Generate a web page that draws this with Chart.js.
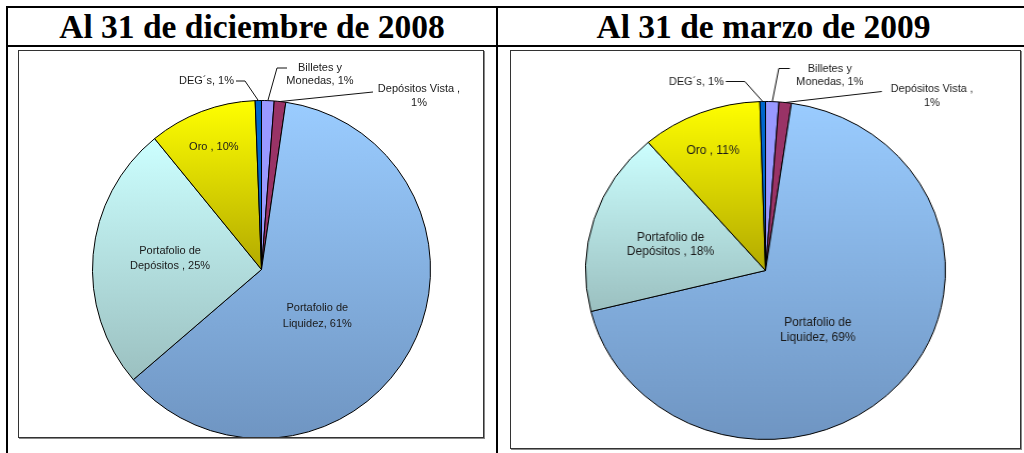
<!DOCTYPE html>
<html>
<head>
<meta charset="utf-8">
<script src="https://cdn.jsdelivr.net/npm/chart.js@4.4.0/dist/chart.umd.min.js"></script>
<style>
  body { margin: 0; background: #fff; width: 1024px; height: 453px; overflow: hidden; position: relative; }
  .ln { position: absolute; background: #000; }
  .head { position: absolute; top: 8px; height: 37px; line-height: 37px; text-align: center;
          font: bold 33.5px "Liberation Serif", "Times New Roman", serif; color: #000; white-space: nowrap; }
  .frame { position: absolute; box-sizing: border-box; border: 1px solid #333; overflow: hidden;
           box-shadow: 1px 1px 0 #888; background: #fff; }
  .frame canvas { position: absolute; left: 0; top: 0; }
</style>
</head>
<body>
<div class="ln" style="left:6px;top:6px;width:1030px;height:2px"></div>
<div class="ln" style="left:6px;top:45px;width:1030px;height:2px"></div>
<div class="ln" style="left:6px;top:6px;width:2px;height:460px"></div>
<div class="ln" style="left:496px;top:6px;width:2px;height:460px"></div>
<div class="head" id="h1" style="left:8px;width:488px"></div>
<div class="head" id="h2" style="left:498px;width:531px"></div>

<div class="frame" style="left:18px;top:50px;width:466px;height:388px">
  <canvas id="js--pie1" width="464" height="390"></canvas>
</div>
<div class="frame" style="left:510px;top:50px;width:511px;height:399px">
  <canvas id="js--pie2" width="508" height="396" style="transform:scaleX(1.065);transform-origin:254.5px 0"></canvas>
</div>

<script>
// datos (en %)
const titles = ['Al 31 de diciembre de 2008', 'Al 31 de marzo de 2009'];
const categories = ['Billetes y Monedas', 'Depósitos Vista ', 'Portafolio de Liquidez', 'Portafolio de Depósitos ', 'Oro ', 'DEG´s'];
const dic2008 = [1.2, 1.1, 61.4, 25.4, 10.3, 0.6];
const mar2009 = [1.2, 1.1, 68.8, 17.6, 10.8, 0.5];

document.getElementById('h1').textContent = titles[0];
document.getElementById('h2').textContent = titles[1];

// color arriba / color abajo de cada porcion
const fills = [
  ['#9999FF', '#9999FF'],
  ['#993366', '#993366'],
  ['#9ACCFF', '#6F95C2'],
  ['#CCFFFF', '#9BC0C0'],
  ['#FFFF00', '#B3AA00'],
  ['#0066CC', '#0066CC']
];

function shade(c) {
  const chart = c.chart;
  const a = chart.chartArea;
  const f = fills[c.dataIndex];
  if (!a || f[0] == f[1]) return f[0];
  const data = c.dataset.data;
  const total = data.reduce((s, v) => s + v, 0);
  let before = 0;
  for (let i = 0; i < c.dataIndex; i++) before += data[i];
  const a0 = before / total * 2 * Math.PI;
  const a1 = (before + data[c.dataIndex]) / total * 2 * Math.PI;
  const cy = (a.top + a.bottom) / 2;
  const r = Math.min(a.width, a.height) / 2;
  const ys = [cy, cy - r * Math.cos(a0), cy - r * Math.cos(a1)];
  if (a0 <= 0 || a1 >= 2 * Math.PI) ys.push(cy - r);
  if (a0 <= Math.PI && a1 >= Math.PI) ys.push(cy + r);
  const g = chart.ctx.createLinearGradient(0, Math.min(...ys), 0, Math.max(...ys));
  g.addColorStop(0, f[0]);
  g.addColorStop(1, f[1]);
  return g;
}

function sliceLabels(cfg) {
  return {
    id: 'sliceLabels',
    afterDatasetsDraw(chart) {
      const ctx = chart.ctx;
      const data = chart.data.datasets[0].data;
      const total = data.reduce((s, v) => s + v, 0);
      ctx.save();
      ctx.fillStyle = '#1a1a1a';
      ctx.strokeStyle = '#111';
      ctx.lineWidth = 1;
      ctx.textBaseline = 'middle';
      chart.getDatasetMeta(0).data.forEach((arc, i) => {
        const p = arc.getProps(['x', 'y', 'startAngle', 'endAngle', 'outerRadius'], true);
        const mid = (p.startAngle + p.endAngle) / 2;
        const text = chart.data.labels[i] + ', ' + Math.round(data[i] / total * 100 + 1e-9) + '%';
        const lay = cfg.labels[i];
        const lh = lay.lh || 13;
        const words = text.split(' ');
        const lines = lay.wrap ? [words.slice(0, lay.wrap).join(' '), words.slice(lay.wrap).join(' ')] : [text];
        let x, y;
        if (lay.inside) {
          const an = mid + lay.shift * Math.PI / 180;
          x = p.x + Math.cos(an) * lay.f * p.outerRadius;
          y = p.y + Math.sin(an) * lay.f * p.outerRadius - (lines.length - 1) * lh / 2;
        } else {
          x = p.x + lay.dx / cfg.sx;
          y = p.y + lay.dy;
          ctx.beginPath();
          lay.leader.forEach((q, k) => {
            const lx = p.x + q[0] / cfg.sx, ly = p.y + q[1];
            if (k) ctx.lineTo(lx, ly); else ctx.moveTo(lx, ly);
          });
          ctx.lineTo(p.x + Math.cos(mid) * p.outerRadius, p.y + Math.sin(mid) * p.outerRadius);
          ctx.stroke();
        }
        ctx.font = (lay.inside ? cfg.innerSize : 11) + 'px "Liberation Sans", Arial, sans-serif';
        ctx.textAlign = lay.align || 'center';
        lines.forEach((ln, k) => {
          ctx.save();
          ctx.translate(x, y + k * lh);
          ctx.scale(1 / cfg.sx, 1);
          ctx.fillText(ln, 0, 0);
          ctx.restore();
        });
      });
      ctx.restore();
    }
  };
}

function makePie(id, values, padding, cfg) {
  new Chart(document.getElementById(id), {
    type: 'pie',
    data: {
      labels: categories,
      datasets: [{
        data: values,
        backgroundColor: shade,
        borderColor: '#000',
        borderWidth: 1
      }]
    },
    options: {
      responsive: false,
      animation: false,
      devicePixelRatio: 1,
      layout: { padding: padding },
      plugins: { legend: { display: false }, tooltip: { enabled: false } },
      events: []
    },
    plugins: [sliceLabels(cfg)]
  });
}

makePie('js--pie1', dic2008, { left: 73, right: 52, top: 49, bottom: 2 }, {
  sx: 1, innerSize: 11,
  labels: [
    { dx: 58.5, dy: -201.5, wrap: 2, lh: 13, leader: [[25.5, -201.5], [15.5, -201.5]] },
    { dx: 157.5, dy: -180.5, wrap: 3, lh: 14, leader: [[111.5, -177.5]] },
    { inside: true, f: 0.43, shift: 11, wrap: 2, lh: 15.5 },
    { inside: true, f: 0.545, shift: 2, wrap: 2, lh: 15 },
    { inside: true, f: 0.78, shift: -0.5 },
    { dx: -27.5, dy: -188.5, align: 'right', leader: [[-25.5, -188.5], [-16.5, -188.5]] }
  ]
});

makePie('js--pie2', mar2009, { left: 85, right: 84, top: 50, bottom: 7 }, {
  sx: 1.065, innerSize: 12,
  labels: [
    { dx: 64.3, dy: -202, wrap: 2, lh: 13, leader: [[24.3, -202], [13.3, -202]] },
    { dx: 166.3, dy: -182, wrap: 3, lh: 14, leader: [[116.3, -179]] },
    { inside: true, f: 0.46, shift: 8.6, wrap: 2, lh: 15 },
    { inside: true, f: 0.55, shift: -1.3, wrap: 2, lh: 14 },
    { inside: true, f: 0.766, shift: -1.2 },
    { dx: -41.7, dy: -189, align: 'right', leader: [[-39.7, -189], [-20.7, -189]] }
  ]
});
</script>
</body>
</html>
